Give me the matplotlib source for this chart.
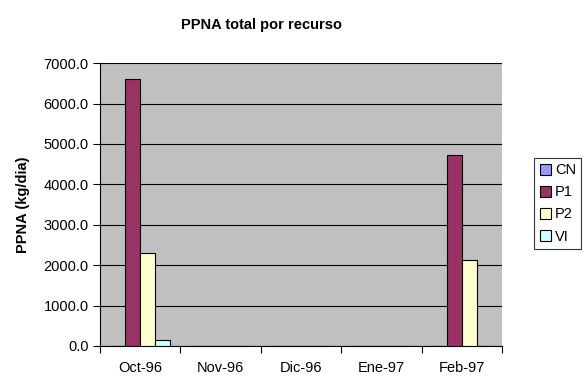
import numpy as np
import matplotlib.pyplot as plt
from matplotlib.ticker import FormatStrFormatter

plt.rcParams['font.family'] = ['Liberation Sans', 'DejaVu Sans']

months = ['Oct-96', 'Nov-96', 'Dic-96', 'Ene-97', 'Feb-97']
series = ['CN', 'P1', 'P2', 'VI']
cn = [0, 0, 0, 0, 0]
p1 = [6600, 0, 0, 0, 4720]
p2 = [2300, 0, 0, 0, 2130]
vi = [140, 0, 0, 0, 0]
colors = ['#9999FF', '#993366', '#FFFFCC', '#CCFFFF']

fig = plt.figure(figsize=(5.88, 3.9), dpi=100)
ax = fig.add_axes([0.170, 0.113, 0.684, 0.725])
ax.set_facecolor('#C0C0C0')

x = np.arange(len(months))
w = 0.187
for i, (name, vals) in enumerate(zip(series, [cn, p1, p2, vi])):
    ax.bar(x + (i - 1.5) * w, vals, w, color=colors[i], edgecolor='black',
           linewidth=0.8, label=name, zorder=3)

ax.set_xlim(-0.5, len(months) - 0.5)
ax.set_ylim(0, 7000)
ax.set_yticks(np.arange(0, 7001, 1000))
ax.yaxis.set_major_formatter(FormatStrFormatter('%.1f'))
ax.grid(axis='y', color='black', linewidth=0.8, zorder=1)
ax.set_xticks(x)
ax.set_xticklabels(months)
ax.set_xticks(np.arange(-0.5, len(months)), minor=True)
ax.tick_params(axis='x', which='major', length=0, pad=11, labelsize=10.5)
ax.tick_params(axis='x', which='minor', length=5, width=0.8, direction='out')
ax.tick_params(axis='y', length=5, width=0.8, labelsize=10.5, pad=3)
for s in ['top', 'right']:
    ax.spines[s].set_visible(False)
for s in ['left', 'bottom']:
    ax.spines[s].set_linewidth(0.8)

ax.set_ylabel('PPNA (kg/dia)', fontsize=10.5, fontweight='bold', labelpad=10)
fig.text(0.445, 0.936, 'PPNA total por recurso',
         ha='center', va='center', fontsize=10.5, fontweight='bold')

leg = fig.legend(loc='upper left', bbox_to_anchor=(0.909, 0.594), frameon=True,
                 fancybox=False, edgecolor='black', fontsize=10.5,
                 handlelength=0.75, handleheight=0.75, handletextpad=0.3,
                 borderpad=0.35, labelspacing=0.55, borderaxespad=0)
leg.get_frame().set_linewidth(0.8)

fig.savefig('out.png', dpi=100)
